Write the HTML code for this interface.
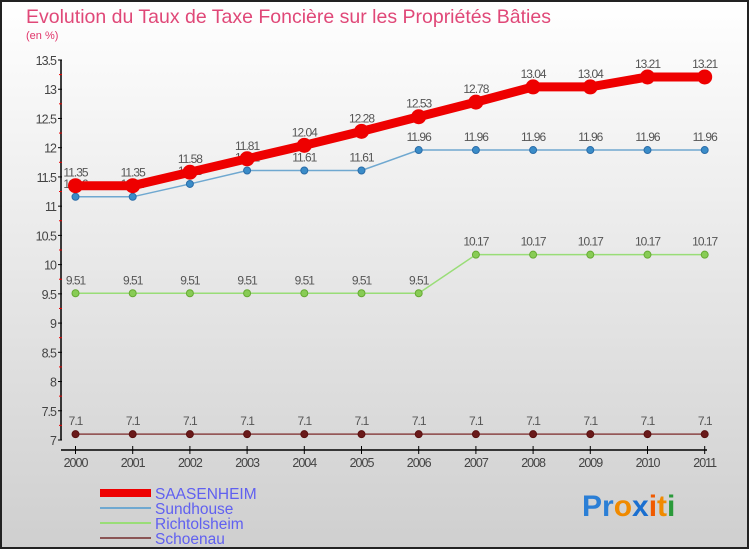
<!DOCTYPE html>
<html><head><meta charset="utf-8"><style>
body{margin:0}
#c{width:750px;height:550px;position:relative;overflow:hidden;font-family:"Liberation Sans",sans-serif}
</style></head><body>
<div id="c">
<svg id="s" width="750" height="550" xmlns="http://www.w3.org/2000/svg">
<defs><linearGradient id="bg" x1="0" y1="0" x2="0" y2="1"><stop offset="0" stop-color="#ffffff"/><stop offset="1" stop-color="#cfcfcf"/></linearGradient></defs>
<rect x="1" y="1" width="747" height="547" fill="url(#bg)" stroke="#222" stroke-width="2"/>
<text x="26" y="23" font-size="19.5" fill="#e04878">Evolution du Taux de Taxe Foncière sur les Propriétés Bâties</text>
<text x="26" y="39" font-size="11" fill="#e0356a">(en %)</text>
<g id="axes"></g><g id="series"></g>
<g>
<rect x="100" y="489" width="51" height="8" fill="#ee0000"/>
<text x="155" y="499" font-size="15.5" fill="#6060f0">SAASENHEIM</text>
<rect x="100" y="507" width="51" height="2" fill="#6fa8d0"/>
<text x="155" y="514" font-size="15.5" fill="#6060f0">Sundhouse</text>
<rect x="100" y="522" width="51" height="2" fill="#99dd77"/>
<text x="155" y="529" font-size="15.5" fill="#6060f0">Richtolsheim</text>
<rect x="100" y="537" width="51" height="2" fill="#8a5555"/>
<text x="155" y="544" font-size="15.5" fill="#6060f0">Schoenau</text>
</g>
<g font-size="30" font-weight="bold">
<text x="582" y="516"><tspan fill="#2b7fd6">Pr</tspan><tspan fill="#f08a00">o</tspan><tspan fill="#1a6fd0">x</tspan><tspan fill="#f05a00">i</tspan><tspan fill="#f08a00">t</tspan><tspan fill="#2a9a3a">i</tspan></text>
</g>
</svg>
</div>
<script>
const years=["2000","2001","2002","2003","2004","2005","2006","2007","2008","2009","2010","2011"];
const saasenheim=[11.35,11.35,11.58,11.81,12.04,12.28,12.53,12.78,13.04,13.04,13.21,13.21];
const sundhouse=[11.16,11.16,11.38,11.61,11.61,11.61,11.96,11.96,11.96,11.96,11.96,11.96];
const richtolsheim=[9.51,9.51,9.51,9.51,9.51,9.51,9.51,10.17,10.17,10.17,10.17,10.17];
const schoenau=[7.1,7.1,7.1,7.1,7.1,7.1,7.1,7.1,7.1,7.1,7.1,7.1];
const yTicks=["7","7.5","8","8.5","9","9.5","10","10.5","11","11.5","12","12.5","13","13.5"];
const NS="http://www.w3.org/2000/svg";
const xs=i=>75.5+i*57.2;
const ys=v=>440-(v-7)*(380/6.5);
function mk(t,a,p){const e=document.createElementNS(NS,t);for(const k in a)e.setAttribute(k,a[k]);p.appendChild(e);return e;}
const ax=document.getElementById('axes');
let yl=mk('line',{x1:61,y1:60,x2:61,y2:440,stroke:'#000','stroke-width':1.5},ax);


yTicks.forEach(t=>{const y=ys(+t);
 mk('line',{x1:58,y1:y,x2:62,y2:y,stroke:'#000'},ax);
 if(+t>7) mk('line',{x1:59,y1:y+14.6,x2:62,y2:y+14.6,stroke:'#e00'},ax);
 const tx=mk('text',{x:56,y:y+5,'text-anchor':'end','font-size':12.5,fill:'#444','letter-spacing':'-1'},ax);tx.textContent=t;
 
 
});
let xl=mk('line',{x1:61,y1:450,x2:707,y2:450,stroke:'#000','stroke-width':1.5},ax);


years.forEach((t,i)=>{const x=xs(i);
 mk('line',{x1:x,y1:446,x2:x,y2:454,stroke:'#000'},ax);
 const tx=mk('text',{x:x,y:467,'text-anchor':'middle','font-size':12.5,fill:'#444','letter-spacing':'-1'},ax);tx.textContent=t;
 
 
});
const sg=document.getElementById('series');
function series(name,vals,color,lw,r,dot,dotStroke){
 const g=mk('g',{},sg);
 
 
 mk('polyline',{points:vals.map((v,i)=>xs(i)+','+ys(v)).join(' '),fill:'none',stroke:color,'stroke-width':lw},g);
 vals.forEach((v,i)=>{
  const c=mk('circle',{cx:xs(i),cy:ys(v),r:r,fill:dot,stroke:dotStroke,'stroke-width':1},g);
  
  
  const t=mk('text',{x:xs(i),y:ys(v)-9,'text-anchor':'middle','font-size':12,fill:'#555','letter-spacing':'-1'},g);
  t.textContent=String(v);
  
  
 });
}
series('schoenau',schoenau,'#8a4444',1.5,3.5,'#6a1a1a','#5a1010');
series('richtolsheim',richtolsheim,'#99dd77',1.5,3.5,'#88cc55','#66aa33');
series('sundhouse',sundhouse,'#6fa8d0',1.5,3.5,'#3a8cc8','#2a6ca8');
series('saasenheim',saasenheim,'#ee0000',9,7,'#ee0000','#ee0000');
</script>
</body></html>
